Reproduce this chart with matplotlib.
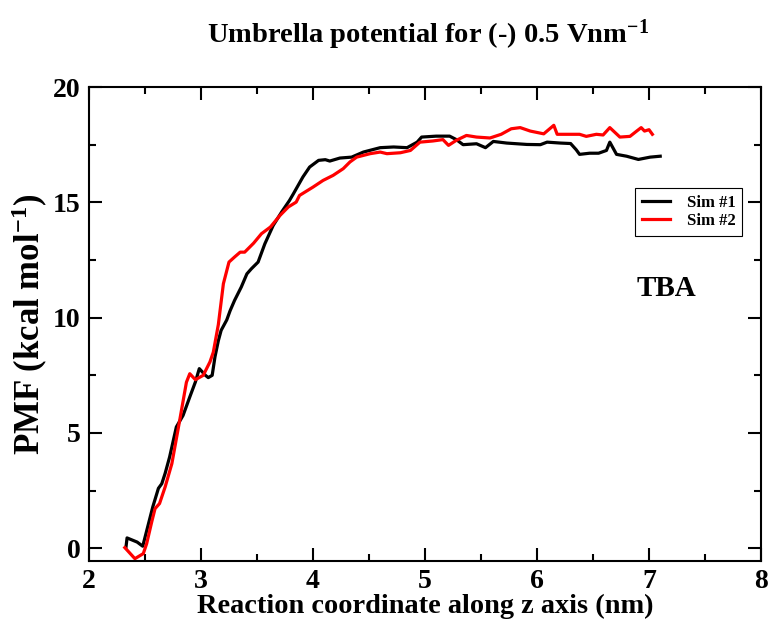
import matplotlib
matplotlib.use('Agg')
import matplotlib.pyplot as plt
from matplotlib.ticker import MultipleLocator

plt.rcParams['font.family'] = ['Liberation Serif', 'DejaVu Serif']
plt.rcParams['font.weight'] = 'bold'
plt.rcParams['mathtext.fontset'] = 'custom'
plt.rcParams['mathtext.rm'] = 'Liberation Serif:bold'
plt.rcParams['mathtext.it'] = 'Liberation Serif:bold'
plt.rcParams['mathtext.bf'] = 'Liberation Serif:bold'

# Sim #1 (black)
x_sim1 = [2.33, 2.34, 2.43, 2.48, 2.57, 2.62, 2.65, 2.68, 2.72, 2.78, 2.84, 2.90, 2.95, 2.985,
          3.04, 3.065, 3.10, 3.125, 3.155, 3.18, 3.23, 3.26, 3.30, 3.36, 3.41, 3.45, 3.51, 3.57,
          3.645, 3.72, 3.79, 3.825, 3.91, 3.97, 4.05, 4.11, 4.15, 4.24, 4.345, 4.45, 4.60, 4.72,
          4.84, 4.93, 4.97, 5.10, 5.22, 5.28, 5.34, 5.46, 5.54, 5.61, 5.73, 5.91, 6.03, 6.09,
          6.21, 6.30, 6.35, 6.38, 6.47, 6.55, 6.62, 6.65, 6.71, 6.80, 6.905, 7.01, 7.10]
y_sim1 = [0.03, 0.45, 0.27, 0.09, 1.8, 2.6, 2.8, 3.25, 3.96, 5.26, 5.76, 6.56, 7.21, 7.79,
          7.5, 7.4, 7.5, 8.3, 9.0, 9.45, 9.9, 10.3, 10.75, 11.33, 11.9, 12.12, 12.41, 13.2,
          14.0, 14.58, 15.08, 15.37, 16.1, 16.53, 16.82, 16.85, 16.79, 16.92, 16.96, 17.18, 17.37, 17.4,
          17.37, 17.61, 17.83, 17.87, 17.87, 17.72, 17.5, 17.54, 17.37, 17.64, 17.57, 17.51, 17.5, 17.61,
          17.57, 17.55, 17.28, 17.08, 17.13, 17.13, 17.25, 17.61, 17.08, 17.0, 16.86, 16.96, 17.0]

# Sim #2 (red)
x_sim2 = [2.32, 2.41, 2.485, 2.515, 2.56, 2.59, 2.63, 2.68, 2.74, 2.81, 2.87, 2.90, 2.95, 3.02,
          3.08, 3.11, 3.14, 3.155, 3.20, 3.25, 3.30, 3.35, 3.39, 3.47, 3.54, 3.62, 3.705, 3.78,
          3.85, 3.88, 4.0, 4.09, 4.18, 4.27, 4.33, 4.39, 4.51, 4.60, 4.66, 4.78, 4.87, 4.955,
          5.07, 5.16, 5.21, 5.28, 5.37, 5.46, 5.58, 5.68, 5.77, 5.85, 5.94, 6.06, 6.15, 6.18,
          6.29, 6.38, 6.44, 6.53, 6.59, 6.65, 6.74, 6.83, 6.89, 6.93, 6.96, 7.0, 7.03]
y_sim2 = [0.03, -0.45, -0.23, 0.2, 1.14, 1.72, 1.94, 2.66, 3.67, 5.55, 7.2, 7.57, 7.31, 7.5,
          8.08, 8.5, 9.3, 9.7, 11.47, 12.41, 12.63, 12.84, 12.84, 13.23, 13.64, 13.93, 14.43, 14.8,
          15.01, 15.3, 15.66, 15.95, 16.17, 16.46, 16.75, 16.96, 17.11, 17.18, 17.11, 17.15, 17.25, 17.61,
          17.66, 17.72, 17.47, 17.69, 17.9, 17.83, 17.79, 17.95, 18.19, 18.24, 18.09, 17.97, 18.34, 17.95,
          17.95, 17.95, 17.86, 17.95, 17.92, 18.24, 17.83, 17.86, 18.09, 18.24, 18.09, 18.15, 17.95]

fig = plt.figure(figsize=(7.73, 6.22), dpi=100)
ax = fig.add_axes([0.1151, 0.0981, 0.8694, 0.762])

ax.plot(x_sim1, y_sim1, color='black', linewidth=2.3, label='Sim #1')
ax.plot(x_sim2, y_sim2, color='red', linewidth=2.3, label='Sim #2')

ax.set_xlim(2, 8)
ax.set_ylim(-0.55, 20)
ax.xaxis.set_major_locator(MultipleLocator(1))
ax.xaxis.set_minor_locator(MultipleLocator(0.5))
ax.yaxis.set_major_locator(MultipleLocator(5))
ax.yaxis.set_minor_locator(MultipleLocator(2.5))
ax.tick_params(which='both', direction='in', top=True, right=True, width=1.5)
ax.tick_params(which='major', length=9.5, labelsize=20, pad=6)
ax.tick_params(which='minor', length=5)
for s in ax.spines.values():
    s.set_linewidth(1.5)

ax.set_xlabel('Reaction coordinate along z axis (nm)', fontsize=20.4, fontweight='bold', labelpad=0)
ax.set_ylabel('PMF (kcal mol$^{-1}$)', fontsize=25, fontweight='bold', labelpad=2)
fig.text(0.5537, 0.944, 'Umbrella potential for (-) 0.5 Vnm$^{-1}$', ha='center', va='center',
         fontsize=20.5, fontweight='bold')
ax.text(7.16, 11.27, 'TBA', ha='center', va='center', fontsize=21, fontweight='bold')

leg = ax.legend(loc='upper left', bbox_to_anchor=(0.8125, 0.787), borderaxespad=0,
                prop={'size': 12, 'weight': 'bold'}, fancybox=False, edgecolor='black',
                framealpha=1, handlelength=1.7, handletextpad=1.0, borderpad=0.4,
                labelspacing=0.15)
leg.get_frame().set_linewidth(0.8)

fig.savefig('out.png', dpi=100)
